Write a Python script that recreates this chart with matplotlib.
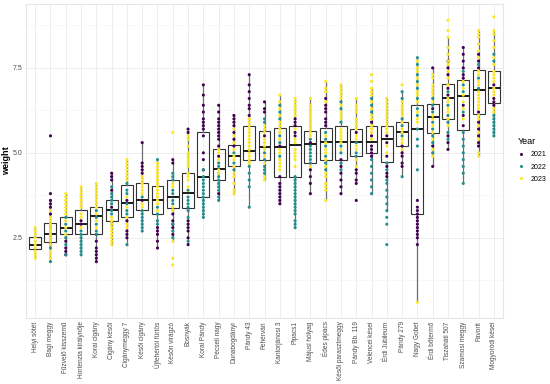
import numpy as np
import matplotlib
matplotlib.use("Agg")
import matplotlib.pyplot as plt
from matplotlib.lines import Line2D

plt.rcParams['font.family'] = ['Liberation Sans', 'DejaVu Sans']

categories = ["Helyi sötét", "Bagi meggy", "Fűzvelő kisszemű", "Hortenzia királynője",
              "Korai cigány", "Cigány késői", "Cigánymeggy 7", "Késői cigány",
              "Újfehértói fürtös", "Későn virágzó", "Bosnyák", "Korai Pándy",
              "Pécseli nagy", "Dunabogdányi", "Pándy 43", "Fehérvári",
              "Kantorjánosi 3", "Pipacs1", "Májusi hólyag", "Édes pipacs",
              "Késői parasztmeggy", "Pándy Bb. 119", "Velencei kései", "Érdi Jubileum",
              "Pándy 279", "Nagy Gobet", "Érdi bőtermő", "Tiszaháti 507",
              "Szamosi meggy", "Favorit", "Mogyoródi kései"]

years = ["2021", "2022", "2023"]
year_colors = ["#440154", "#21908C", "#FDE725"]

# box statistics: (q1, median, q3)
q1 = [2.18, 2.37, 2.60, 2.61, 2.61, 3.00, 3.11, 3.32, 3.21, 3.39, 3.38, 3.70, 4.21, 4.61, 4.78, 4.80,
      4.30, 4.30, 4.70, 4.78, 4.78, 4.90, 4.99, 4.73, 5.19, 3.20, 5.58, 6.00, 5.68, 6.15, 6.47]
med = [2.30, 2.61, 2.80, 2.91, 3.15, 3.31, 3.51, 3.62, 3.62, 3.70, 3.81, 4.30, 4.51, 4.92, 5.06, 5.16,
       5.16, 5.22, 5.26, 5.31, 5.31, 5.31, 5.31, 5.41, 5.61, 5.71, 6.05, 6.62, 6.66, 6.86, 6.90]
q3 = [2.51, 2.93, 3.11, 3.31, 3.40, 3.61, 4.04, 4.12, 4.01, 4.19, 4.41, 5.61, 5.11, 5.22, 5.80, 5.64,
      5.73, 5.80, 5.64, 5.73, 5.80, 5.71, 5.80, 5.80, 5.90, 6.41, 6.43, 7.02, 7.15, 7.44, 7.40]

w2021 = [
    [],
    [5.5, 3.8, 3.6, 3.5, 3.4, 3.2, 2.8, 2.5, 2.3],
    [2.4, 2.2, 2.1, 2.0],
    [3.0, 2.9],
    [2.6, 2.4, 2.2, 2.1, 2.0, 1.9, 1.8],
    [4.4, 4.3, 4.2, 3.9, 3.4],
    [3.6, 3.0, 2.7, 2.6, 2.5],
    [5.3, 4.7, 4.6, 4.5, 4.4, 3.6],
    [2.8, 2.7, 2.6, 2.4, 2.2],
    [4.8, 4.7, 3.2, 3.0, 2.9, 2.8, 2.6],
    [5.7, 5.6, 3.0, 2.9, 2.8, 2.7, 2.5, 2.3],
    [7.0, 6.7, 6.4, 6.2, 6.0, 5.9, 5.8, 5.7, 5.5, 5.0, 4.8, 4.5],
    [6.4, 6.2, 6.0, 5.9, 5.8, 5.7, 5.6, 5.5, 5.4, 5.2, 4.9, 3.8],
    [6.1, 6.0, 5.9, 5.8, 5.6, 5.4, 5.2],
    [7.3, 7.0, 6.8, 6.6, 6.4, 6.3, 6.1],
    [6.5, 6.3, 6.2, 5.5],
    [5.2, 4.3, 4.1, 4.0, 3.9, 3.8, 3.7, 3.6, 3.5],
    [6.0, 5.9, 5.8, 5.6, 5.5],
    [5.3, 4.5, 4.3, 4.1, 3.8],
    [6.6, 6.4, 6.3, 6.2, 6.0, 5.9, 5.8],
    [4.8, 4.6, 4.4, 4.2, 4.0, 3.8],
    [5.6, 4.5, 4.4, 4.2, 4.1, 3.6],
    [5.9, 5.5, 5.2, 5.1, 5.0, 4.9],
    [5.5, 5.3, 4.9, 4.6, 4.4, 4.3],
    [5.6, 5.2, 5.0, 4.9, 4.7, 4.6],
    [3.6, 3.4, 3.3, 3.2, 3.1, 3.0, 2.9, 2.8, 2.7, 2.6, 2.5, 2.3],
    [7.5, 6.3, 5.2, 4.6],
    [7.7, 7.5, 7.3, 6.9, 6.7, 5.5, 5.3, 5.1],
    [8.1, 7.9, 7.7, 7.5, 7.3, 7.2, 6.4, 6.1, 5.8],
    [7.9, 7.7, 7.5, 6.2, 5.9, 5.7, 5.5, 5.3, 5.2],
    [7.0, 6.6, 6.5, 6.4],
]
w2022 = [
    [],
    [2.9, 2.7, 2.6, 2.4, 2.2, 1.8],
    [3.1, 2.9, 2.7, 2.5, 2.3, 2.0],
    [2.7, 2.6, 2.5, 2.4, 2.3, 2.2, 2.1, 2.0],
    [3.3, 3.1, 2.9, 2.7, 2.6],
    [4.0, 3.8, 3.7, 3.6, 3.5, 3.3, 3.2, 2.9],
    [4.1, 3.9, 3.8, 3.5, 3.3, 3.2, 2.3],
    [3.7, 3.3, 3.2, 3.1, 3.0, 2.9, 2.8, 2.7],
    [4.8, 3.4, 3.2, 3.0, 2.9],
    [4.4, 4.3, 4.2, 3.9, 3.8, 3.6, 3.5, 2.9, 2.7, 2.5],
    [3.9, 3.7, 3.6, 3.5, 3.4, 3.3, 3.1, 2.4],
    [4.5, 4.3, 4.2, 4.1, 4.0, 3.9, 3.8, 3.7, 3.6, 3.5, 3.4, 3.3, 3.2, 3.1],
    [4.7, 4.6, 4.4, 4.3, 4.2, 4.1, 4.0, 3.9, 3.7, 3.6],
    [5.0, 4.7, 4.5],
    [4.6, 4.4, 4.2, 4.0, 3.4],
    [6.0, 5.9, 5.0, 4.8, 4.6, 4.5, 4.4],
    [6.4, 6.2, 6.0, 5.5, 5.3, 4.9],
    [4.3, 4.2, 4.1, 4.0, 3.9, 3.8, 3.7, 3.6, 3.5, 3.4, 3.3, 3.2, 3.0, 2.9, 2.8],
    [5.4, 5.2, 5.1, 5.0, 4.9, 4.8, 4.7],
    [5.6, 5.4, 5.2, 4.9, 4.7, 4.5],
    [6.5, 6.3, 5.9, 5.2, 5.0, 4.7, 4.5],
    [5.3, 5.0, 4.9],
    [6.6, 6.4, 6.2, 4.8, 4.6, 4.4, 4.2, 4.0, 3.8],
    [4.7, 4.5, 4.2, 4.1, 3.9, 3.7, 3.5, 3.3, 3.1, 2.9, 2.3],
    [6.8, 6.6, 6.0, 5.8, 5.5, 4.3],
    [7.8, 7.6, 7.3, 7.1, 6.9, 6.6, 6.3, 6.1, 5.7, 5.4, 5.2, 4.5],
    [6.6, 6.4, 6.2, 5.9, 5.7, 5.5, 5.3, 5.0],
    [6.8, 6.4, 6.1, 5.9, 5.6, 5.4],
    [7.4, 7.0, 6.8, 6.2, 5.6, 5.4, 5.2, 5.0, 4.8, 4.6, 4.4, 4.1],
    [7.6, 7.2, 6.9],
    [7.9, 7.7, 6.1, 6.0, 5.9, 5.8, 5.7, 5.6, 5.5],
]
w2023 = [
    [2.8, 2.7, 2.6, 2.5, 2.4, 2.3, 2.2, 2.1, 2.0, 1.9],
    [3.3, 3.1, 3.0, 2.9, 2.8, 2.7, 2.6, 2.5, 2.4, 2.3, 2.1, 2.0, 1.9],
    [3.8, 3.7, 3.6, 3.5, 3.4, 3.3, 3.2, 3.0, 2.8, 2.6],
    [4.0, 3.9, 3.8, 3.7, 3.6, 3.5, 3.4, 3.2, 3.1, 2.8],
    [4.1, 4.0, 3.9, 3.8, 3.7, 3.6, 3.5, 3.4, 3.2, 3.0, 2.8],
    [3.1, 3.0, 2.9, 2.8, 2.7, 2.6, 2.5, 2.4, 2.3],
    [4.8, 4.7, 4.6, 4.5, 4.4, 4.3, 4.2, 3.7, 3.4, 3.1, 2.9, 2.8],
    [4.3, 4.2, 4.1, 4.0, 3.9, 3.8, 3.5, 3.4],
    [4.7, 4.6, 4.5, 4.4, 4.3, 4.2, 4.1, 4.0, 3.9, 3.8, 3.7, 3.6, 3.5, 3.3],
    [5.6, 4.1, 4.0, 3.4, 3.3, 2.4, 1.9, 1.7],
    [5.5, 5.4, 5.2, 5.0, 4.9, 4.8, 4.7, 4.6, 4.4, 4.3, 4.2, 4.0],
    [],
    [5.1, 5.0, 4.8, 4.5, 4.4],
    [5.7, 5.5, 5.3, 5.1, 4.9, 4.8, 4.6, 4.4, 4.3, 4.1, 3.9, 3.8],
    [6.0, 5.9, 5.8, 5.7, 5.6, 5.5, 5.4, 5.3, 5.2, 5.1, 5.0, 4.9, 4.8, 4.7],
    [5.8, 5.7, 5.6, 5.4, 5.3, 5.2, 5.1, 4.9, 4.7, 4.3, 4.2],
    [6.7, 6.5, 6.3, 6.1, 5.9, 5.8, 5.7, 5.6, 5.4, 5.1, 5.0, 4.8, 4.7, 4.6, 4.5],
    [6.6, 6.5, 6.4, 6.3, 6.2, 6.1, 5.7, 5.4, 5.3, 5.1, 5.0, 4.9, 4.8, 4.6],
    [6.6, 6.4, 6.3, 6.2, 6.1, 6.0, 5.9, 5.8, 5.7, 5.6, 5.5, 4.6],
    [7.1, 6.9, 6.8, 6.5, 5.5, 5.3, 5.1, 5.0, 4.8, 4.6, 4.4, 4.3, 4.1, 4.0, 3.9, 3.6],
    [7.0, 6.9, 6.8, 6.7, 6.6, 6.4, 6.2, 6.1, 6.0, 5.7, 5.6, 5.5, 5.4, 5.3, 5.1],
    [6.6, 6.4, 6.3, 6.2, 6.0, 5.9, 5.8, 5.7, 5.5, 5.4, 5.2, 5.1, 4.8, 4.6],
    [7.3, 7.1, 6.9, 6.8, 6.7, 6.5, 6.3, 6.1, 6.0, 5.8, 5.7, 5.6, 5.4],
    [6.6, 6.5, 6.4, 6.3, 6.2, 6.1, 6.0, 5.9, 5.8, 5.7, 5.6, 5.2, 5.0],
    [7.0, 6.5, 6.4, 6.3, 6.2, 6.1, 5.9, 5.7, 5.6, 5.4, 5.3, 5.1],
    [7.7, 7.5, 7.4, 7.2, 7.0, 6.8, 6.7, 6.5, 6.2, 6.0, 5.9, 0.6],
    [7.3, 7.2, 7.0, 6.9, 6.8, 6.7, 6.5, 6.1, 6.0, 5.8, 5.6, 5.4, 5.1, 4.9],
    [8.9, 8.6, 8.4, 8.1, 7.9, 7.7, 7.6, 7.4, 7.2, 7.0, 6.6, 6.5, 6.3, 6.2, 6.0, 5.8],
    [7.1, 6.9, 6.7, 6.5, 6.3, 6.0],
    [8.6, 8.5, 8.4, 8.2, 8.0, 7.8, 7.4, 7.3, 7.1, 7.0, 6.8, 6.7, 6.6, 6.5, 6.4, 6.3,
     6.1, 6.0, 5.8, 5.6, 5.4, 5.0, 4.9],
    [9.0, 8.6, 8.5, 8.3, 8.1, 7.8, 7.6, 7.4, 7.3, 7.2, 7.1, 6.9, 6.8, 6.7, 6.3, 6.2],
]
series = [w2021, w2022, w2023]

fig = plt.figure(figsize=(5.5, 3.84), dpi=100)
ax = fig.add_axes([26/550, 1-318/384, 477/550, 314/384])

pos = np.arange(1, len(categories) + 1)

# box stats (whiskers from the points, 1.5 IQR rule)
stats = []
for i in range(len(categories)):
    allv = np.array(w2021[i] + w2022[i] + w2023[i])
    iqr = q3[i] - q1[i]
    lo_f, hi_f = q1[i] - 1.5 * iqr, q3[i] + 1.5 * iqr
    inside = allv[(allv >= lo_f) & (allv <= hi_f)]
    stats.append(dict(q1=q1[i], med=med[i], q3=q3[i],
                      whislo=min(inside.min(), q1[i]), whishi=max(inside.max(), q3[i]),
                      fliers=[]))
ax.bxp(stats, positions=pos, widths=0.78, showfliers=False, patch_artist=True,
       boxprops=dict(facecolor="none", edgecolor="#333333", linewidth=0.8),
       medianprops=dict(color="#1a1a1a", linewidth=1.4),
       whiskerprops=dict(color="#6e6e6e", linewidth=0.9),
       capprops=dict(linewidth=0), zorder=2)

# points
for s, col in zip(series, year_colors):
    xs, ys = [], []
    for i, vals in enumerate(s):
        xs += [pos[i]] * len(vals)
        ys += vals
    ax.scatter(xs, ys, s=5, color=col, edgecolors="none", zorder=3)

ax.set_xlim(0.4, len(categories) + 0.6)
ax.set_ylim(0.14, 9.38)
ax.set_yticks([2.5, 5.0, 7.5])
ax.set_yticklabels(["2.5", "5.0", "7.5"])
ax.set_yticks([1.25, 3.75, 6.25, 8.75], minor=True)
ax.set_xticks(pos)
ax.set_xticklabels(categories, rotation=90, ha="center", va="top")
ax.tick_params(axis="both", which="both", length=0, labelsize=5, colors="#4d4d4d", pad=2.5)
ax.tick_params(axis="x", labelsize=4.7)
ax.grid(True, which="major", color="#ebebeb", linewidth=0.6, zorder=0)
ax.grid(True, which="minor", axis="y", color="#f3f3f3", linewidth=0.4, zorder=0)
ax.set_axisbelow(True)
for sp in ax.spines.values():
    sp.set_color("#e6e6e6")
    sp.set_linewidth(0.8)
ax.set_ylabel("weight", fontsize=6.5, fontweight="bold", labelpad=1.5)

handles = [Line2D([0], [0], marker="o", linestyle="none", markersize=2.2,
                  markerfacecolor=c, markeredgecolor="none") for c in year_colors]
leg = fig.legend(handles, years, title="Year", loc="upper left",
                 bbox_to_anchor=(511/550, 1-131/384), frameon=False, fontsize=5,
                 title_fontsize=6.5, handlelength=1.0, handletextpad=0.9, labelspacing=0.75)
leg._legend_box.align = "left"

fig.savefig("out.png", dpi=100)
